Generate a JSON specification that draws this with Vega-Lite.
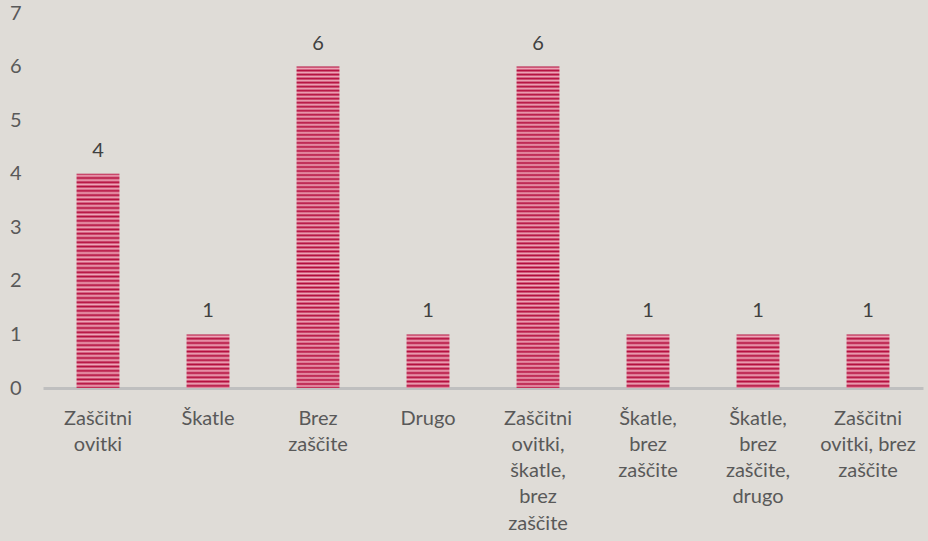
{
  "$schema": "https://vega.github.io/schema/vega-lite/v6.json",
  "width": 880,
  "height": 375,
  "autosize": {"type": "none"},
  "padding": {"left": 43, "top": 13, "right": 5, "bottom": 153},
  "background": "#dfdcd7",
  "config": {"view": {"stroke": null}, "font": "Lato"},
  "data": {
    "values": [
      {"kategorija": "Zaščitni ovitki", "n": 4},
      {"kategorija": "Škatle", "n": 1},
      {"kategorija": "Brez zaščite", "n": 6},
      {"kategorija": "Drugo", "n": 1},
      {"kategorija": "Zaščitni ovitki, škatle, brez zaščite", "n": 6},
      {"kategorija": "Škatle, brez zaščite", "n": 1},
      {"kategorija": "Škatle, brez zaščite, drugo", "n": 1},
      {"kategorija": "Zaščitni ovitki, brez zaščite", "n": 1}
    ]
  },
  "encoding": {
    "x": {
      "field": "kategorija",
      "type": "nominal",
      "sort": null,
      "scale": {"paddingInner": 0.61, "paddingOuter": 0.305},
      "axis": {
        "title": null,
        "labelAngle": 0,
        "labelFontSize": 20,
        "labelColor": "#595959",
        "labelLineHeight": 26.3,
        "labelPadding": 30,
        "labelBaseline": "middle",
        "ticks": false,
        "domainColor": "#bfbfbf",
        "domainWidth": 3,
        "labelExpr": "datum.value == 'Zaščitni ovitki, brez zaščite' ? ['Zaščitni', 'ovitki, brez', 'zaščite'] : split(datum.value, ' ')"
      }
    },
    "y": {
      "field": "n",
      "type": "quantitative",
      "scale": {"domain": [0, 7]},
      "axis": {
        "title": null,
        "values": [0, 1, 2, 3, 4, 5, 6, 7],
        "domain": false,
        "ticks": false,
        "grid": false,
        "labelFontSize": 20,
        "labelColor": "#595959",
        "labelPadding": 22
      }
    }
  },
  "layer": [
    {
      "mark": {"type": "bar", "strokeWidth": 0},
      "encoding": {
        "color": {
          "condition": [
            {"test": "datum.n == 6", "value": {"gradient": "linear", "x1": 0, "y1": 0, "x2": 0, "y2": 1, "stops": [
{"offset":0,"color":"#b30b3b"},{"offset":0.00625,"color":"#efaabb"},{"offset":0.0125,"color":"#b30b3b"},{"offset":0.01875,"color":"#efaabb"},{"offset":0.025,"color":"#b30b3b"},{"offset":0.03125,"color":"#efaabb"},{"offset":0.0375,"color":"#b30b3b"},{"offset":0.04375,"color":"#efaabb"},{"offset":0.05,"color":"#b30b3b"},{"offset":0.05625,"color":"#efaabb"},{"offset":0.0625,"color":"#b30b3b"},{"offset":0.06875,"color":"#efaabb"},{"offset":0.075,"color":"#b30b3b"},{"offset":0.08125,"color":"#efaabb"},{"offset":0.0875,"color":"#b30b3b"},{"offset":0.09375,"color":"#efaabb"},
{"offset":0.1,"color":"#b30b3b"},{"offset":0.10625,"color":"#efaabb"},{"offset":0.1125,"color":"#b30b3b"},{"offset":0.11875,"color":"#efaabb"},{"offset":0.125,"color":"#b30b3b"},{"offset":0.13125,"color":"#efaabb"},{"offset":0.1375,"color":"#b30b3b"},{"offset":0.14375,"color":"#efaabb"},{"offset":0.15,"color":"#b30b3b"},{"offset":0.15625,"color":"#efaabb"},{"offset":0.1625,"color":"#b30b3b"},{"offset":0.16875,"color":"#efaabb"},{"offset":0.175,"color":"#b30b3b"},{"offset":0.18125,"color":"#efaabb"},{"offset":0.1875,"color":"#b30b3b"},{"offset":0.19375,"color":"#efaabb"},
{"offset":0.2,"color":"#b30b3b"},{"offset":0.20625,"color":"#efaabb"},{"offset":0.2125,"color":"#b30b3b"},{"offset":0.21875,"color":"#efaabb"},{"offset":0.225,"color":"#b30b3b"},{"offset":0.23125,"color":"#efaabb"},{"offset":0.2375,"color":"#b30b3b"},{"offset":0.24375,"color":"#efaabb"},{"offset":0.25,"color":"#b30b3b"},{"offset":0.25625,"color":"#efaabb"},{"offset":0.2625,"color":"#b30b3b"},{"offset":0.26875,"color":"#efaabb"},{"offset":0.275,"color":"#b30b3b"},{"offset":0.28125,"color":"#efaabb"},{"offset":0.2875,"color":"#b30b3b"},{"offset":0.29375,"color":"#efaabb"},
{"offset":0.3,"color":"#b30b3b"},{"offset":0.30625,"color":"#efaabb"},{"offset":0.3125,"color":"#b30b3b"},{"offset":0.31875,"color":"#efaabb"},{"offset":0.325,"color":"#b30b3b"},{"offset":0.33125,"color":"#efaabb"},{"offset":0.3375,"color":"#b30b3b"},{"offset":0.34375,"color":"#efaabb"},{"offset":0.35,"color":"#b30b3b"},{"offset":0.35625,"color":"#efaabb"},{"offset":0.3625,"color":"#b30b3b"},{"offset":0.36875,"color":"#efaabb"},{"offset":0.375,"color":"#b30b3b"},{"offset":0.38125,"color":"#efaabb"},{"offset":0.3875,"color":"#b30b3b"},{"offset":0.39375,"color":"#efaabb"},
{"offset":0.4,"color":"#b30b3b"},{"offset":0.40625,"color":"#efaabb"},{"offset":0.4125,"color":"#b30b3b"},{"offset":0.41875,"color":"#efaabb"},{"offset":0.425,"color":"#b30b3b"},{"offset":0.43125,"color":"#efaabb"},{"offset":0.4375,"color":"#b30b3b"},{"offset":0.44375,"color":"#efaabb"},{"offset":0.45,"color":"#b30b3b"},{"offset":0.45625,"color":"#efaabb"},{"offset":0.4625,"color":"#b30b3b"},{"offset":0.46875,"color":"#efaabb"},{"offset":0.475,"color":"#b30b3b"},{"offset":0.48125,"color":"#efaabb"},{"offset":0.4875,"color":"#b30b3b"},{"offset":0.49375,"color":"#efaabb"},
{"offset":0.5,"color":"#b30b3b"},{"offset":0.50625,"color":"#efaabb"},{"offset":0.5125,"color":"#b30b3b"},{"offset":0.51875,"color":"#efaabb"},{"offset":0.525,"color":"#b30b3b"},{"offset":0.53125,"color":"#efaabb"},{"offset":0.5375,"color":"#b30b3b"},{"offset":0.54375,"color":"#efaabb"},{"offset":0.55,"color":"#b30b3b"},{"offset":0.55625,"color":"#efaabb"},{"offset":0.5625,"color":"#b30b3b"},{"offset":0.56875,"color":"#efaabb"},{"offset":0.575,"color":"#b30b3b"},{"offset":0.58125,"color":"#efaabb"},{"offset":0.5875,"color":"#b30b3b"},{"offset":0.59375,"color":"#efaabb"},
{"offset":0.6,"color":"#b30b3b"},{"offset":0.60625,"color":"#efaabb"},{"offset":0.6125,"color":"#b30b3b"},{"offset":0.61875,"color":"#efaabb"},{"offset":0.625,"color":"#b30b3b"},{"offset":0.63125,"color":"#efaabb"},{"offset":0.6375,"color":"#b30b3b"},{"offset":0.64375,"color":"#efaabb"},{"offset":0.65,"color":"#b30b3b"},{"offset":0.65625,"color":"#efaabb"},{"offset":0.6625,"color":"#b30b3b"},{"offset":0.66875,"color":"#efaabb"},{"offset":0.675,"color":"#b30b3b"},{"offset":0.68125,"color":"#efaabb"},{"offset":0.6875,"color":"#b30b3b"},{"offset":0.69375,"color":"#efaabb"},
{"offset":0.7,"color":"#b30b3b"},{"offset":0.70625,"color":"#efaabb"},{"offset":0.7125,"color":"#b30b3b"},{"offset":0.71875,"color":"#efaabb"},{"offset":0.725,"color":"#b30b3b"},{"offset":0.73125,"color":"#efaabb"},{"offset":0.7375,"color":"#b30b3b"},{"offset":0.74375,"color":"#efaabb"},{"offset":0.75,"color":"#b30b3b"},{"offset":0.75625,"color":"#efaabb"},{"offset":0.7625,"color":"#b30b3b"},{"offset":0.76875,"color":"#efaabb"},{"offset":0.775,"color":"#b30b3b"},{"offset":0.78125,"color":"#efaabb"},{"offset":0.7875,"color":"#b30b3b"},{"offset":0.79375,"color":"#efaabb"},
{"offset":0.8,"color":"#b30b3b"},{"offset":0.80625,"color":"#efaabb"},{"offset":0.8125,"color":"#b30b3b"},{"offset":0.81875,"color":"#efaabb"},{"offset":0.825,"color":"#b30b3b"},{"offset":0.83125,"color":"#efaabb"},{"offset":0.8375,"color":"#b30b3b"},{"offset":0.84375,"color":"#efaabb"},{"offset":0.85,"color":"#b30b3b"},{"offset":0.85625,"color":"#efaabb"},{"offset":0.8625,"color":"#b30b3b"},{"offset":0.86875,"color":"#efaabb"},{"offset":0.875,"color":"#b30b3b"},{"offset":0.88125,"color":"#efaabb"},{"offset":0.8875,"color":"#b30b3b"},{"offset":0.89375,"color":"#efaabb"},
{"offset":0.9,"color":"#b30b3b"},{"offset":0.90625,"color":"#efaabb"},{"offset":0.9125,"color":"#b30b3b"},{"offset":0.91875,"color":"#efaabb"},{"offset":0.925,"color":"#b30b3b"},{"offset":0.93125,"color":"#efaabb"},{"offset":0.9375,"color":"#b30b3b"},{"offset":0.94375,"color":"#efaabb"},{"offset":0.95,"color":"#b30b3b"},{"offset":0.95625,"color":"#efaabb"},{"offset":0.9625,"color":"#b30b3b"},{"offset":0.96875,"color":"#efaabb"},{"offset":0.975,"color":"#b30b3b"},{"offset":0.98125,"color":"#efaabb"},{"offset":0.9875,"color":"#b30b3b"},{"offset":0.99375,"color":"#efaabb"},
{"offset":1,"color":"#b30b3b"}
            ]}},
            {"test": "datum.n == 4", "value": {"gradient": "linear", "x1": 0, "y1": 0, "x2": 0, "y2": 1, "stops": [
{"offset":0,"color":"#b30b3b"},{"offset":0.01,"color":"#efaabb"},{"offset":0.02,"color":"#b30b3b"},{"offset":0.03,"color":"#efaabb"},{"offset":0.04,"color":"#b30b3b"},{"offset":0.05,"color":"#efaabb"},{"offset":0.06,"color":"#b30b3b"},{"offset":0.07,"color":"#efaabb"},{"offset":0.08,"color":"#b30b3b"},{"offset":0.09,"color":"#efaabb"},
{"offset":0.1,"color":"#b30b3b"},{"offset":0.11,"color":"#efaabb"},{"offset":0.12,"color":"#b30b3b"},{"offset":0.13,"color":"#efaabb"},{"offset":0.14,"color":"#b30b3b"},{"offset":0.15,"color":"#efaabb"},{"offset":0.16,"color":"#b30b3b"},{"offset":0.17,"color":"#efaabb"},{"offset":0.18,"color":"#b30b3b"},{"offset":0.19,"color":"#efaabb"},
{"offset":0.2,"color":"#b30b3b"},{"offset":0.21,"color":"#efaabb"},{"offset":0.22,"color":"#b30b3b"},{"offset":0.23,"color":"#efaabb"},{"offset":0.24,"color":"#b30b3b"},{"offset":0.25,"color":"#efaabb"},{"offset":0.26,"color":"#b30b3b"},{"offset":0.27,"color":"#efaabb"},{"offset":0.28,"color":"#b30b3b"},{"offset":0.29,"color":"#efaabb"},
{"offset":0.3,"color":"#b30b3b"},{"offset":0.31,"color":"#efaabb"},{"offset":0.32,"color":"#b30b3b"},{"offset":0.33,"color":"#efaabb"},{"offset":0.34,"color":"#b30b3b"},{"offset":0.35,"color":"#efaabb"},{"offset":0.36,"color":"#b30b3b"},{"offset":0.37,"color":"#efaabb"},{"offset":0.38,"color":"#b30b3b"},{"offset":0.39,"color":"#efaabb"},
{"offset":0.4,"color":"#b30b3b"},{"offset":0.41,"color":"#efaabb"},{"offset":0.42,"color":"#b30b3b"},{"offset":0.43,"color":"#efaabb"},{"offset":0.44,"color":"#b30b3b"},{"offset":0.45,"color":"#efaabb"},{"offset":0.46,"color":"#b30b3b"},{"offset":0.47,"color":"#efaabb"},{"offset":0.48,"color":"#b30b3b"},{"offset":0.49,"color":"#efaabb"},
{"offset":0.5,"color":"#b30b3b"},{"offset":0.51,"color":"#efaabb"},{"offset":0.52,"color":"#b30b3b"},{"offset":0.53,"color":"#efaabb"},{"offset":0.54,"color":"#b30b3b"},{"offset":0.55,"color":"#efaabb"},{"offset":0.56,"color":"#b30b3b"},{"offset":0.57,"color":"#efaabb"},{"offset":0.58,"color":"#b30b3b"},{"offset":0.59,"color":"#efaabb"},
{"offset":0.6,"color":"#b30b3b"},{"offset":0.61,"color":"#efaabb"},{"offset":0.62,"color":"#b30b3b"},{"offset":0.63,"color":"#efaabb"},{"offset":0.64,"color":"#b30b3b"},{"offset":0.65,"color":"#efaabb"},{"offset":0.66,"color":"#b30b3b"},{"offset":0.67,"color":"#efaabb"},{"offset":0.68,"color":"#b30b3b"},{"offset":0.69,"color":"#efaabb"},
{"offset":0.7,"color":"#b30b3b"},{"offset":0.71,"color":"#efaabb"},{"offset":0.72,"color":"#b30b3b"},{"offset":0.73,"color":"#efaabb"},{"offset":0.74,"color":"#b30b3b"},{"offset":0.75,"color":"#efaabb"},{"offset":0.76,"color":"#b30b3b"},{"offset":0.77,"color":"#efaabb"},{"offset":0.78,"color":"#b30b3b"},{"offset":0.79,"color":"#efaabb"},
{"offset":0.8,"color":"#b30b3b"},{"offset":0.81,"color":"#efaabb"},{"offset":0.82,"color":"#b30b3b"},{"offset":0.83,"color":"#efaabb"},{"offset":0.84,"color":"#b30b3b"},{"offset":0.85,"color":"#efaabb"},{"offset":0.86,"color":"#b30b3b"},{"offset":0.87,"color":"#efaabb"},{"offset":0.88,"color":"#b30b3b"},{"offset":0.89,"color":"#efaabb"},
{"offset":0.9,"color":"#b30b3b"},{"offset":0.91,"color":"#efaabb"},{"offset":0.92,"color":"#b30b3b"},{"offset":0.93,"color":"#efaabb"},{"offset":0.94,"color":"#b30b3b"},{"offset":0.95,"color":"#efaabb"},{"offset":0.96,"color":"#b30b3b"},{"offset":0.97,"color":"#efaabb"},{"offset":0.98,"color":"#b30b3b"},{"offset":0.99,"color":"#efaabb"},
{"offset":1,"color":"#b30b3b"}
            ]}}
          ],
          "value": {"gradient": "linear", "x1": 0, "y1": 0, "x2": 0, "y2": 1, "stops": [
{"offset":0,"color":"#b30b3b"},{"offset":0.04,"color":"#efaabb"},{"offset":0.08,"color":"#b30b3b"},{"offset":0.12,"color":"#efaabb"},{"offset":0.16,"color":"#b30b3b"},{"offset":0.2,"color":"#efaabb"},{"offset":0.24,"color":"#b30b3b"},{"offset":0.28,"color":"#efaabb"},{"offset":0.32,"color":"#b30b3b"},{"offset":0.36,"color":"#efaabb"},{"offset":0.4,"color":"#b30b3b"},{"offset":0.44,"color":"#efaabb"},{"offset":0.48,"color":"#b30b3b"},{"offset":0.52,"color":"#efaabb"},{"offset":0.56,"color":"#b30b3b"},{"offset":0.6,"color":"#efaabb"},{"offset":0.64,"color":"#b30b3b"},{"offset":0.68,"color":"#efaabb"},{"offset":0.72,"color":"#b30b3b"},{"offset":0.76,"color":"#efaabb"},{"offset":0.8,"color":"#b30b3b"},{"offset":0.84,"color":"#efaabb"},{"offset":0.88,"color":"#b30b3b"},{"offset":0.92,"color":"#efaabb"},{"offset":0.96,"color":"#b30b3b"},{"offset":1,"color":"#efaabb"}
          ]}
        }
      }
    },
    {
      "mark": {"type": "text", "baseline": "alphabetic", "dy": -17, "fontSize": 20, "color": "#404040"},
      "encoding": {"text": {"field": "n", "type": "quantitative"}}
    }
  ]
}
